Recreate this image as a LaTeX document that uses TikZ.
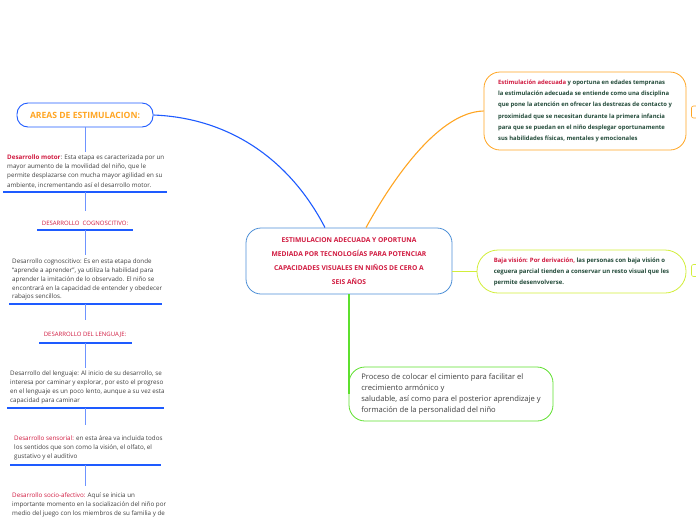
\documentclass[tikz,border=0pt]{standalone}
\usepackage{fontspec}
\setmainfont{Open Sans}
\usepackage{tikz}
\usetikzlibrary{positioning}

\definecolor{mmred}{HTML}{D0193F}
\definecolor{mmgray}{HTML}{3F3F3F}
\definecolor{mmdark}{HTML}{234B3A}
\definecolor{mmblue}{HTML}{1E5BFF}
\definecolor{mmlight}{HTML}{6E93FF}
\definecolor{mmsteel}{HTML}{4D8FD6}
\definecolor{mmorange}{HTML}{FFA522}
\definecolor{mmlime}{HTML}{D2EE3A}
\definecolor{mmgreen}{HTML}{5EE02E}

\begin{document}
\begin{tikzpicture}[x=1pt,y=-1pt,
  txt/.style={anchor=north west,inner sep=0pt,align=left,text=mmgray,font=\fontsize{6.25}{9.1}\selectfont},
  head/.style={inner sep=0pt,text=mmred,font=\fontsize{6}{7}\selectfont},
  uline/.style={mmblue,line width=1.1pt},
  vline/.style={mmlight,line width=0.6pt},
  card/.style={line width=0.8pt,fill=white,align=left,inner sep=0pt,text=mmdark,font=\bfseries\fontsize{5.9}{11.2}\selectfont},
  tag/.style={line width=0.6pt,rounded corners=2pt,minimum width=11pt,minimum height=12pt,inner sep=0pt,fill=white}]
  \useasboundingbox (0,0) rectangle (696,520);
  \clip (0,0) rectangle (696,520);
  % central topic
  \node[draw=mmsteel,line width=0.8pt,rounded corners=15pt,minimum width=206pt,minimum height=66pt,align=center,inner sep=0pt,text=mmred,font=\bfseries\fontsize{6.7}{13.8}\selectfont] (central) at (349,261)
    {ESTIMULACION ADECUADA Y OPORTUNA\\MEDIADA POR TECNOLOGÍAS PARA POTENCIAR\\CAPACIDADES VISUALES EN NIÑOS DE CERO A\\SEIS AÑOS};
  % the three cards on the right
  \node[card,draw=mmorange,rounded corners=16pt,minimum width=202pt,minimum height=78pt] (ostim) at (585,111)
    {\textcolor{mmred}{Estimulación adecuada} y oportuna en edades tempranas\\la estimulación adecuada se entiende como una disciplina\\que pone la atención en ofrecer las destrezas de contacto y\\proximidad que se necesitan durante la primera infancia\\para que se puedan en el niño desplegar oportunamente\\sus habilidades físicas, mentales y emocionales};
  \node[card,draw=mmlime,rounded corners=21pt,minimum width=209pt,minimum height=43pt,font=\bfseries\fontsize{6}{11}\selectfont] (blv) at (581.5,271.5)
    {\textcolor{mmred}{Baja visión: Por derivación,} las personas con baja visión o\\ceguera parcial tienden a conservar un resto visual que les\\permite desenvolverse.};
  \node[card,draw=mmgreen,rounded corners=16pt,minimum width=204pt,minimum height=54pt,text=mmgray,font=\fontsize{7.6}{11.3}\selectfont] (proc) at (451,394)
    {Proceso de colocar el cimiento para facilitar el\\crecimiento armónico y\\saludable, así como para el posterior aprendizaje y\\formación de la personalidad del niño};
  \node[tag,draw=mmorange] (otag) at (697,112) {};
  \node[tag,draw=mmlime] (ytag) at (697,270.5) {};
  % branches out of the central topic
  \draw[mmorange,line width=1.1pt] ([xshift=17pt]central.north) .. controls (395,175) and (440,112) .. (ostim.west);
  \draw[mmlime,line width=1.3pt] (central.east |- blv.west) -- (blv.west);
  \draw[mmgreen,line width=1.3pt] (central.south) -- (central.south |- proc.west);
  % left column: areas of stimulation
  \node[draw=mmblue,line width=0.9pt,rounded corners=11pt,minimum width=136pt,minimum height=24pt,inner sep=0pt,fill=white,text=mmorange,font=\bfseries\fontsize{8.6}{9}\selectfont] (areas) at (85,115) {AREAS DE ESTIMULACION:};
  \draw[mmblue,line width=1.1pt] (areas.east) .. controls (230,118) and (290,160) .. ([xshift=-24pt]central.north);
  \node[txt] (motor) at (7,154.8)
    {\textcolor{mmred}{\bfseries Desarrollo motor}: Esta etapa es caracterizada por un\\mayor aumento de la movilidad del niño, que le\\permite desplazarse con mucha mayor agilidad en su\\ambiente, incrementando así el desarrollo motor.};
  \node[head] (hcog) at (85,223) {DESARROLLO\ \ COGNOSCITIVO:};
  \node[txt,font=\fontsize{6.25}{8.8}\selectfont] (cog) at (12,258.8)
    {Desarrollo cognoscitivo: Es en esta etapa donde\\“aprende a aprender”, ya utiliza la habilidad para\\aprender la imitación de lo observado. El niño se\\encontrará en la capacidad de entender y obedecer\\rabajos sencillos.};
  \node[head] (hleng) at (85,335) {DESARROLLO DEL LENGUAJE:};
  \node[txt,font=\fontsize{6.25}{8.8}\selectfont] (leng) at (10,370.8)
    {Desarrollo del lenguaje: Al inicio de su desarrollo, se\\interesa por caminar y explorar, por esto el progreso\\en el lenguaje es un poco lento, aunque a su vez esta\\capacidad para caminar};
  \node[txt] (sens) at (14,435.8)
    {\textcolor{mmred}{Desarrollo sensorial:} en esta área va incluida todos\\los sentidos que son como la visión, el olfato, el\\gustativo y el auditivo};
  \node[txt] (socio) at (12,492.8)
    {\textcolor{mmred}{Desarrollo socio-afectivo:} Aquí se inicia un\\importante momento en la socialización del niño por\\medio del juego con los miembros de su familia y de};
  % rules under each block
  \draw[uline] (3,192) -- (167,192);
  \draw[uline] (37,230) -- (133,230);
  \draw[uline] (9,304) -- (162,304);
  \draw[uline] (39,343) -- (132,343);
  \draw[uline] (7,408) -- (164,408);
  \draw[uline] (10,465) -- (161,465);
  \coordinate (r1) at (85,192);
  \coordinate (r2) at (85,230);
  \coordinate (r3) at (85,304);
  \coordinate (r4) at (85,343);
  \coordinate (r5) at (85,408);
  \coordinate (r6) at (85,465);
  % thin links down the column
  \draw[vline,shorten >=3pt] (areas.south) -- (areas.south |- motor.north);
  \draw[vline,shorten >=9.5pt] (r1) -- (r1 |- hcog.north);
  \draw[vline,shorten >=4pt] (r2) -- (r2 |- cog.north);
  \draw[vline,shorten >=12.5pt] (r3) -- (r3 |- hleng.north);
  \draw[vline,shorten >=3pt] (r4) -- (r4 |- leng.north);
  \draw[vline,shorten >=11pt] (r5) -- (r5 |- sens.north);
  \draw[vline,shorten >=7pt] (r6) -- (r6 |- socio.north);
\end{tikzpicture}
\end{document}
